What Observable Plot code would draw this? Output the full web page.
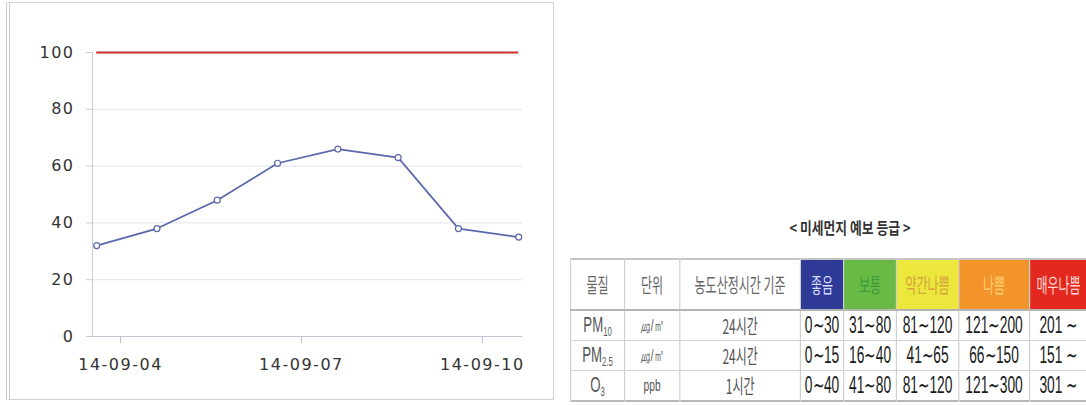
<!DOCTYPE html>
<html><head><meta charset="utf-8">
<script src="https://cdn.jsdelivr.net/npm/d3@7"></script>
<script src="https://cdn.jsdelivr.net/npm/@observablehq/plot@0.6"></script>
<style>
body{margin:0;background:#fff;width:1086px;height:405px;overflow:hidden;position:relative;font-family:"DejaVu Sans",sans-serif;}
#frame{position:absolute;left:6px;top:2px;width:543px;height:396px;border:1px solid #d2d2d2;border-left:4px double #c8c8c8;}
#chart{position:absolute;left:0;top:0;}
#title{position:absolute;left:750px;top:215px;width:200px;text-align:center;font-family:"Noto Sans CJK KR";font-weight:700;font-size:16px;color:#333;transform:scaleX(0.8);white-space:nowrap;}
#tablewrap{position:absolute;left:570px;top:258px;transform:scaleX(0.6);transform-origin:0 0;}
table{border-collapse:collapse;table-layout:fixed;border-top:2px solid #c4c4c4;border-bottom:2px solid #b8b8b8;}
td{padding:0;text-align:center;white-space:nowrap;border-left:2px solid #d0d0d0;border-right:2px solid #d0d0d0;border-bottom:1px solid #d0d0d0;overflow:visible;}
tr.head td{font-family:"Noto Sans CJK KR";font-size:20px;color:#666;border-bottom:2px solid #b4b4b4;}
td.sub{font-family:"Liberation Sans";font-size:22px;color:#555;}
td.sub sub{font-size:13px;vertical-align:-4px;}
td.unit{font-family:"Liberation Sans";font-size:17px;color:#555;}
td.time{font-family:"Noto Sans CJK KR";font-size:20px;color:#555;}
td.val{font-family:"Liberation Sans";font-size:23px;color:#1a1a1a;}
</style></head>
<body>
<div id="frame"></div>
<div id="chart"></div>
<div id="title"></div>
<div id="tablewrap"></div>
<script>
// ---- chart data ----
const times = ["2014-09-03T14:30Z","2014-09-04T14:30Z","2014-09-05T14:30Z","2014-09-06T14:30Z","2014-09-07T14:30Z","2014-09-08T14:30Z","2014-09-09T14:30Z","2014-09-10T14:30Z"];
const values = [32, 38, 48, 61, 66, 63, 38, 35];
const limitValue = 100;
const xTickDates = ["2014-09-04","2014-09-07","2014-09-10"];
const yTicks = [0, 20, 40, 60, 80, 100];
const xDomain = ["2014-09-03T12:50Z", "2014-09-10T16:00Z"];

// ---- table data ----
const tableTitle = "< 미세먼지 예보 등급 >";
const headers = ["물질","단위","농도산정시간 기준","좋음","보통","약간나쁨","나쁨","매우나쁨"];
const gradeColors = ["#2f3a96","#69ba45","#ece73c","#f29429","#e3291f"];
const gradeTextColors = ["#d4dcff","#3a9c3c","#d6a43c","#f7cf72","#ffd6d2"];
const substances = [["PM","10"],["PM","2.5"],["O","3"]];
const units = ["㎍/㎥","㎍/㎥","ppb"];
const periods = ["24시간","24시간","1시간"];
const ranges = [
  ["0∼30","31∼80","81∼120","121∼200","201 ∼"],
  ["0∼15","16∼40","41∼65","66∼150","151 ∼"],
  ["0∼40","41∼80","81∼120","121∼300","301 ∼"]
];

const data = times.map((t, i) => ({time: new Date(t), value: values[i]}));
const blue = "#5b67ab";

const chart = Plot.plot({
  width: 560, height: 405,
  marginLeft: 92, marginRight: 38, marginTop: 52, marginBottom: 69,
  style: {background: "transparent", fontFamily: "DejaVu Sans", fontSize: "16px", color: "#333", letterSpacing: "1.5px"},
  x: {type: "utc", domain: xDomain.map(d => new Date(d))},
  y: {domain: [0, 100]},
  marks: [
    Plot.gridY(yTicks.filter(v => v > 0 && v < limitValue), {stroke: "#e3e3ea", strokeOpacity: 1}),
    Plot.frame({anchor: "left", stroke: "#c9cbda"}),
    Plot.ruleY([0], {stroke: "#c3c6d4"}),
    Plot.ruleY([limitValue], {x1: data[0].time, x2: data[data.length-1].time, stroke: "#c8302c", strokeWidth: 2}),
    Plot.line(data, {x: "time", y: "value", stroke: blue, strokeWidth: 1.7}),
    Plot.dot(data, {x: "time", y: "value", r: 3, fill: "white", stroke: blue, strokeWidth: 1.2}),
    Plot.axisX({ticks: xTickDates.map(d => new Date(d + "T00:00Z")), tickFormat: d3.utcFormat("%y-%m-%d"), tickSize: 7, tickPadding: 15, stroke: "#b9bccb", fill: "#333", label: null}),
    Plot.axisY({ticks: yTicks, tickSize: 6, tickPadding: 12, stroke: "#c9cbda", fill: "#333", label: null})
  ]
});
document.getElementById("chart").appendChild(chart);

// ---- table ----
document.getElementById("title").textContent = tableTitle;
const s = 0.6;
const colW = [54, 55, 121, 43, 53, 62, 71, 58];
const rowH = [28, 29, 29];
const table = d3.select("#tablewrap").append("table")
  .style("width", (d3.sum(colW) / s) + "px");
const cg = table.append("colgroup");
colW.forEach(w => cg.append("col").style("width", (w / s) + "px"));
const hr = table.append("tr").attr("class", "head").style("height", "51px");
headers.forEach((h, i) => {
  const td = hr.append("td").text(h);
  if (i >= 3) {
    td.style("background", gradeColors[i-3]).style("color", gradeTextColors[i-3]);
  }
});
substances.forEach((sub, r) => {
  const tr = table.append("tr").style("height", rowH[r] + "px");
  tr.append("td").attr("class", "sub").html(`${sub[0]}<sub>${sub[1]}</sub>`);
  tr.append("td").attr("class", "unit").text(units[r]);
  tr.append("td").attr("class", "time").text(periods[r]);
  ranges[r].forEach(v => tr.append("td").attr("class", "val").text(v));
});
</script>
</body></html>
